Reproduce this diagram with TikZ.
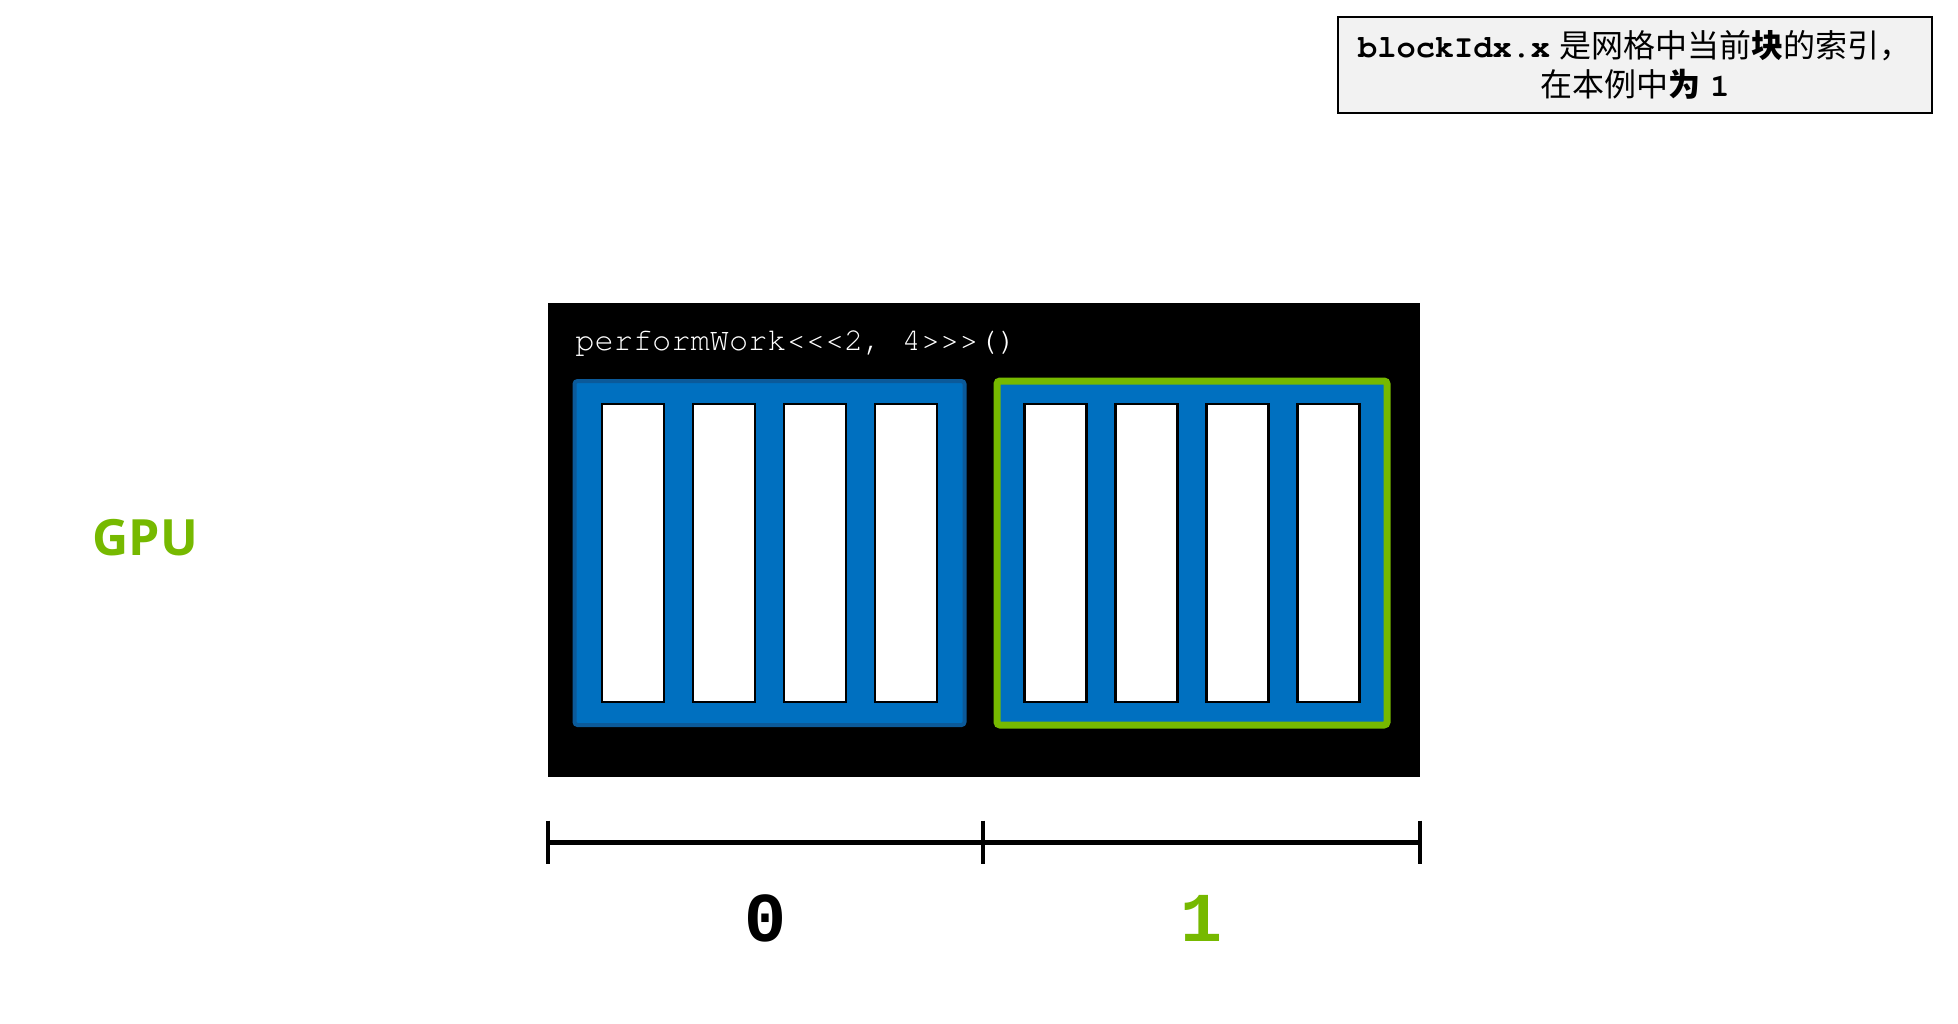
\documentclass[tikz,border=0pt]{standalone}
\usepackage{fontspec}
\setmonofont{TeX Gyre Cursor}
\newfontfamily\cjk{Noto Sans CJK SC}
\newfontfamily\gpufont{Open Sans}
\newfontfamily\idxfont{Liberation Mono}
\definecolor{nvgreen}{HTML}{76B900}
\definecolor{blkblue}{HTML}{0070C0}
\definecolor{blkedge}{HTML}{0B5A9A}
\definecolor{notegray}{HTML}{F2F2F2}

\begin{document}
\begin{tikzpicture}[x=0.5pt,y=-0.5pt,
	block/.style={fill=blkblue,rounded corners=1.5pt,minimum width=195pt,minimum height=172pt,inner sep=0pt},
	thread/.style={fill=white,draw=black,line width=1.25pt,minimum width=31pt,minimum height=149pt,inner sep=0pt},
	idx/.style={font=\idxfont\bfseries\fontsize{35}{40}\selectfont},
	tick/.style={line width=2pt}]
			\useasboundingbox (0,0) rectangle (1958,1023);
			
			\draw (1635,65) node[fill=notegray,draw=black,line width=1pt,minimum width=297pt,minimum height=48pt,align=center,font=\fontsize{16}{19.5}\selectfont] (note)
			{{\ttfamily\bfseries blockIdx.x} {\cjk 是网格中当前{\bfseries 块}的索引，}\\{\cjk 在本例中{\bfseries 为}} {\ttfamily\bfseries 1}};
			
			\draw (92,555) node[anchor=base west,inner sep=0pt,text=nvgreen,font=\gpufont\bfseries\fontsize{25}{30}\selectfont] (gpu) {GPU};
			
			\draw (984,540) node[fill=black,minimum width=436pt,minimum height=237pt,inner sep=0pt] (grid) {};
			\draw (575,350) node[anchor=base west,inner sep=0pt,text=white,font=\ttfamily\fontsize{16}{19}\selectfont] (call) {performWork<<<2, 4>>>()};
			
			\draw (769.5,553) node[block,draw=blkedge,line width=2pt] (blk0) {};
			\draw (1192,553) node[block,draw=nvgreen,line width=3.5pt] (blk1) {};
			
			\draw (633,553) node[thread] (th00) {};
			\draw (724,553) node[thread] (th01) {};
			\draw (815,553) node[thread] (th02) {};
			\draw (906,553) node[thread] (th03) {};
			
			\draw (1055.5,553) node[thread] (th10) {};
			\draw (1146.5,553) node[thread] (th11) {};
			\draw (1237.5,553) node[thread] (th12) {};
			\draw (1328.5,553) node[thread] (th13) {};
			
			\coordinate (t0) at (548,842);
			\coordinate (t1) at (983,842);
			\coordinate (t2) at (1420,842);
			\draw [line width=2.5pt] (t0) -- (t1) -- (t2);
			\draw [tick] (t0) ++(0,-21.5) -- ++(0,43);
			\draw [tick] (t1) ++(0,-21.5) -- ++(0,43);
			\draw [tick] (t2) ++(0,-21.5) -- ++(0,43);
			
			\draw (765.5,918) node[idx] (idx0) {0};
			\draw (1201.5,918) node[idx,text=nvgreen] (idx1) {1};
			\end{tikzpicture}
\end{document}
